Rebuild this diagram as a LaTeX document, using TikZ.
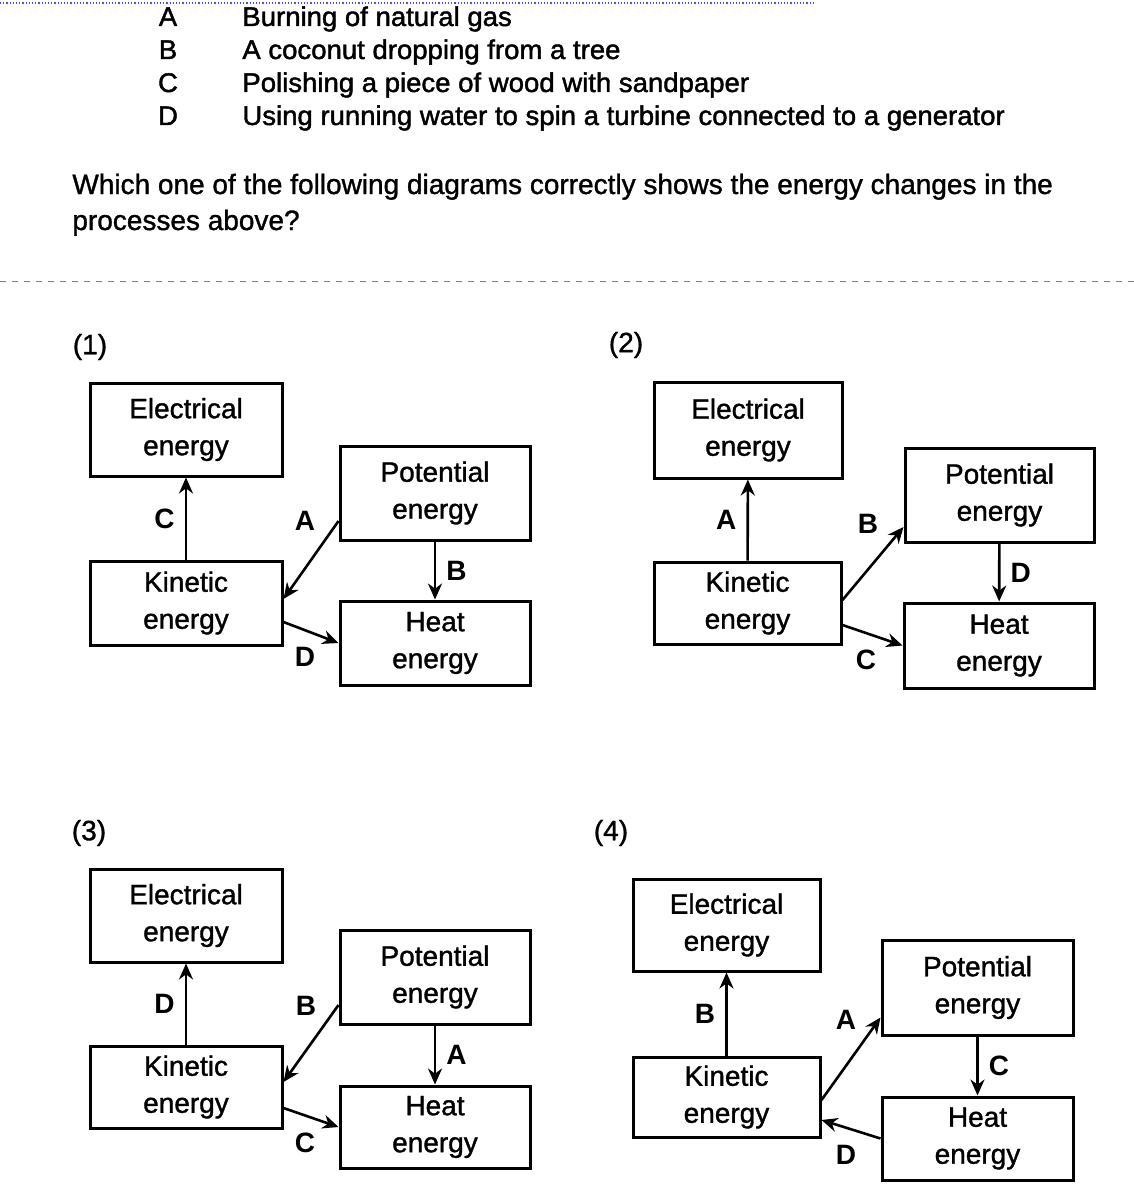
\documentclass[tikz,border=0pt]{standalone}
\usepackage{fontspec}
\setmainfont{Liberation Sans}
\newfontfamily\heavyfont[FakeBold=1.2]{Liberation Sans}
\newfontfamily\narrowfont[FakeStretch=1.02, FakeBold=1.6]{Liberation Sans}
\usetikzlibrary{arrows.meta, positioning}

\begin{document}
\begin{tikzpicture}[x=0.5pt, y=-0.5pt,
    ebox/.style={draw, line width=1.5pt, align=center, inner sep=0pt,
        font=\heavyfont\fontsize{14}{18.5}\selectfont},
    flow/.style={-{Stealth[length=8pt, width=7pt]}, line width=1.3pt},
    tag/.style={font=\fontsize{14}{14}\selectfont\bfseries, inner sep=1pt},
    panel/.style={font=\heavyfont\fontsize{14}{14}\selectfont, inner sep=1pt},
    item/.style={anchor=base west, inner sep=0pt, font=\narrowfont\fontsize{13.5}{13.5}\selectfont},
    ask/.style={anchor=base west, inner sep=0pt, font=\heavyfont\fontsize{14}{14}\selectfont}]

    \useasboundingbox (0,0) rectangle (1134,1204);

    % Question
    \draw[blue!70, densely dotted, line width=0.6pt] (0,3) -- (815,3);
    \node[item, anchor=base] (la) at (168,26) {A};
    \node[item, anchor=base] (lb) at (168,59) {B};
    \node[item, anchor=base] (lc) at (168,92) {C};
    \node[item, anchor=base] (ld) at (168,125) {D};
    \node[item] (ta) at (242,26) {Burning of natural gas};
    \node[item] (tb) at (242,59) {A coconut dropping from a tree};
    \node[item] (tc) at (242,92) {Polishing a piece of wood with sandpaper};
    \node[item] (td) at (242,125) {Using running water to spin a turbine connected to a generator};
    \node[ask] (q1) at (72,194) {Which one of the following diagrams correctly shows the energy changes in the};
    \node[ask] (q2) at (72,230) {processes above?};
    \draw[gray, dashed, line width=0.5pt] (0,281) -- (1134,281);

    % Panel (1)
    \node[panel] (p1) at (90,347) {(1)};
    \node[ebox, minimum width=96pt, minimum height=46.5pt] (elec1) at (186,429.5) {Electrical\\energy};
    \node[ebox, minimum width=95pt, minimum height=47pt] (pot1) at (435,493) {Potential\\energy};
    \node[ebox, minimum width=96pt, minimum height=42pt] (kin1) at (186,603) {Kinetic\\energy};
    \node[ebox, minimum width=95pt, minimum height=42pt] (heat1) at (435,643) {Heat\\energy};
    \draw[flow] (kin1) -- node[tag, left=4pt] {C} (elec1);
    \draw[flow] ([yshift=-14pt]pot1.west) -- ([yshift=2pt]kin1.east);
    \node[tag] at (305,521) {A};
    \draw[flow] (pot1) -- node[tag, right=4pt] {B} (heat1);
    \draw[flow] ([yshift=-9.5pt]kin1.east) -- (heat1.west);
    \node[tag] at (305,657) {D};

    % Panel (2)
    \node[panel] (p2) at (626,345) {(2)};
    \node[ebox, minimum width=94pt, minimum height=48pt] (elec2) at (748,430) {Electrical\\energy};
    \node[ebox, minimum width=94.5pt, minimum height=47pt] (pot2) at (999.5,495) {Potential\\energy};
    \node[ebox, minimum width=93.5pt, minimum height=41pt] (kin2) at (747.5,603) {Kinetic\\energy};
    \node[ebox, minimum width=95pt, minimum height=42.5pt] (heat2) at (999,645.5) {Heat\\energy};
    \draw[flow] (kin2) -- node[tag, left=4pt] {A} (elec2);
    \draw[flow] ([yshift=1.5pt]kin2.east) -- ([yshift=-16pt]pot2.west);
    \node[tag] at (868,524) {B};
    \draw[flow] (pot2) -- node[tag, right=4pt] {D} (heat2);
    \draw[flow] ([yshift=-11pt]kin2.east) -- (heat2.west);
    \node[tag] at (866,660) {C};

    % Panel (3)
    \node[panel] (p3) at (89,833) {(3)};
    \node[ebox, minimum width=96pt, minimum height=46.5pt] (elec3) at (186,915.5) {Electrical\\energy};
    \node[ebox, minimum width=95pt, minimum height=47pt] (pot3) at (435,977) {Potential\\energy};
    \node[ebox, minimum width=96pt, minimum height=41pt] (kin3) at (186,1087) {Kinetic\\energy};
    \node[ebox, minimum width=95pt, minimum height=41pt] (heat3) at (435,1127) {Heat\\energy};
    \draw[flow] (kin3) -- node[tag, left=4pt] {D} (elec3);
    \draw[flow] ([yshift=-14pt]pot3.west) -- ([yshift=2.5pt]kin3.east);
    \node[tag] at (306,1006) {B};
    \draw[flow] (pot3) -- node[tag, right=4pt] {A} (heat3);
    \draw[flow] ([yshift=-10.5pt]kin3.east) -- (heat3.west);
    \node[tag] at (305,1143) {C};

    % Panel (4)
    \node[panel] (p4) at (611,833) {(4)};
    \node[ebox, minimum width=93.5pt, minimum height=46pt] (elec4) at (726.5,925) {Electrical\\energy};
    \node[ebox, minimum width=95.5pt, minimum height=47.5pt] (pot4) at (977.5,987.5) {Potential\\energy};
    \node[ebox, minimum width=93.5pt, minimum height=40pt] (kin4) at (726.5,1097) {Kinetic\\energy};
    \node[ebox, minimum width=95.5pt, minimum height=41.5pt] (heat4) at (977.5,1138.5) {Heat\\energy};
    \draw[flow] (kin4) -- node[tag, left=4pt] {B} (elec4);
    \draw[flow] ([yshift=-1.5pt]kin4.east) -- ([yshift=-15pt]pot4.west);
    \node[tag] at (846,1020) {A};
    \draw[flow] (pot4) -- node[tag, right=4pt] {C} (heat4);
    \draw[flow] (heat4.west) -- ([yshift=-11.5pt]kin4.east);
    \node[tag] at (846,1155) {D};

\end{tikzpicture}
\end{document}
